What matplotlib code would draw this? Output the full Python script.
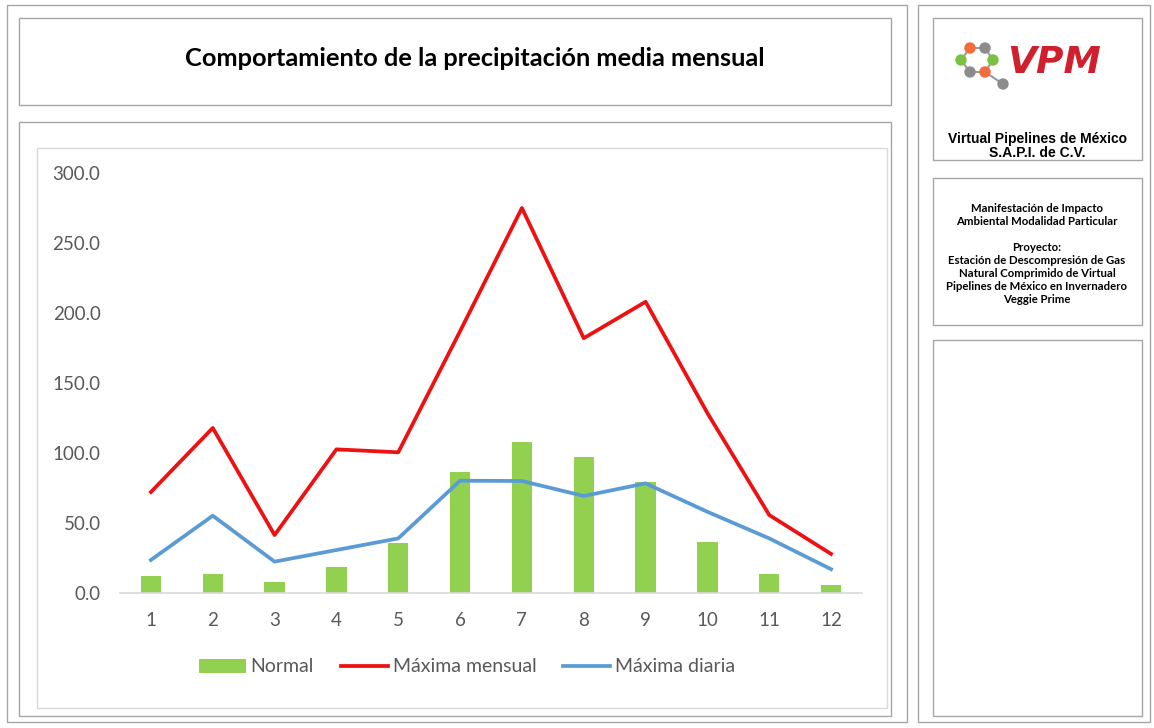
import matplotlib
matplotlib.use('Agg')
import matplotlib.pyplot as plt
from matplotlib.patches import Rectangle, Circle

months = [1, 2, 3, 4, 5, 6, 7, 8, 9, 10, 11, 12]
normal = [12.1, 13.3, 7.6, 18.8, 35.5, 86.2, 108.0, 96.9, 79.5, 36.2, 13.3, 5.7]
max_mensual = [72.1, 117.9, 41.4, 102.6, 100.5, 187.0, 275.0, 182.0, 208.0, 128.5, 55.7, 27.9]
max_diaria = [23.6, 55.2, 22.4, 30.7, 39.0, 80.2, 80.0, 69.3, 78.3, 58.0, 39.0, 17.0]
yticks = [0, 50, 100, 150, 200, 250, 300]

W, H = 1154, 728
fig = plt.figure(figsize=(W / 100, H / 100), dpi=100)

# page layer in pixel coordinates
bg = fig.add_axes([0, 0, 1, 1])
bg.set_xlim(0, W)
bg.set_ylim(H, 0)
bg.axis('off')


def box(x0, y0, x1, y1, ec='#a6a6a6', lw=1.0):
    bg.add_patch(Rectangle((x0, y0), x1 - x0, y1 - y0, fill=False, ec=ec, lw=lw))


box(7, 5, 907, 722)
box(19, 18, 891, 105)
box(19, 122, 891, 716)
box(37, 148, 887, 708, ec='#d9d9d9')
box(918, 5, 1150, 722)
box(933, 18, 1142, 160)
box(933, 178, 1142, 325)
box(933, 340, 1142, 716)

bg.text(475, 58, 'Comportamiento de la precipitación media mensual', ha='center', va='center',
        fontsize=18.3, fontweight='bold', family='Lato', color='black')

# logo
nodes = [(961, 60, '#7ac143'), (970, 48, '#f26b3a'), (985, 48, '#8c8c8c'), (993, 60, '#7ac143'),
         (985, 72, '#f26b3a'), (970, 72, '#8c8c8c'), (1003, 84, '#8c8c8c')]
edges = [(0, 1), (1, 2), (2, 3), (3, 4), (4, 5), (5, 0), (4, 6)]
for a, b in edges:
    bg.plot([nodes[a][0], nodes[b][0]], [nodes[a][1], nodes[b][1]], color='#9a9a9a', lw=1.5, zorder=2)
for x, y, c in nodes:
    bg.add_patch(Circle((x, y), 5, color=c, zorder=3))
bg.text(1054, 63, 'VPM', ha='center', va='center', fontsize=27, fontweight='bold', style='italic',
        family='DejaVu Sans', color='#d0202e')

bg.text(1037, 146, 'Virtual Pipelines de México\nS.A.P.I. de C.V.', ha='center', va='center',
        fontsize=10, fontweight='bold', family='Liberation Sans', linespacing=1.0)

bg.text(1037, 254, 'Manifestación de Impacto\nAmbiental Modalidad Particular\n\nProyecto:\n'
        'Estación de Descompresión de Gas\nNatural Comprimido de Virtual\n'
        'Pipelines de México en Invernadero\nVeggie Prime',
        ha='center', va='center', fontsize=8.2, fontweight='bold', family='Lato', linespacing=1.23)

# chart
ax = fig.add_axes([120 / W, (H - 593) / H, 742 / W, 420 / H])
b = ax.bar(months, normal, width=0.33, color='#92d050', label='Normal', zorder=2)
l1, = ax.plot(months, max_mensual, color='#ee1111', lw=2.7, label='Máxima mensual', zorder=3)
l2, = ax.plot(months, max_diaria, color='#5b9bd5', lw=2.7, label='Máxima diaria', zorder=3)
ax.set_xlim(0.5, 12.5)
ax.set_ylim(0, 300)
ax.set_xticks(months)
ax.set_yticks(yticks)
ax.set_yticklabels(['%.1f' % v for v in yticks])
for s in ['top', 'right', 'left']:
    ax.spines[s].set_visible(False)
ax.spines['bottom'].set_color('#d9d9d9')
ax.spines['bottom'].set_linewidth(1.2)
ax.tick_params(length=0, labelsize=13.5, labelcolor='#595959')
ax.tick_params(axis='y', pad=14)
ax.tick_params(axis='x', pad=14)
for lab in ax.get_xticklabels() + ax.get_yticklabels():
    lab.set_family('Lato')
ax.patch.set_alpha(0)

leg = ax.legend([b, l1, l2], ['Normal', 'Máxima mensual', 'Máxima diaria'],
                loc='center', bbox_to_anchor=(467 / W, (H - 667) / H), bbox_transform=fig.transFigure,
                ncol=3, frameon=False, handlelength=2.4, handletextpad=0.25, columnspacing=1.4,
                prop={'family': 'Lato', 'size': 14})
for t in leg.get_texts():
    t.set_color('#595959')

fig.savefig('out.png', dpi=100)
